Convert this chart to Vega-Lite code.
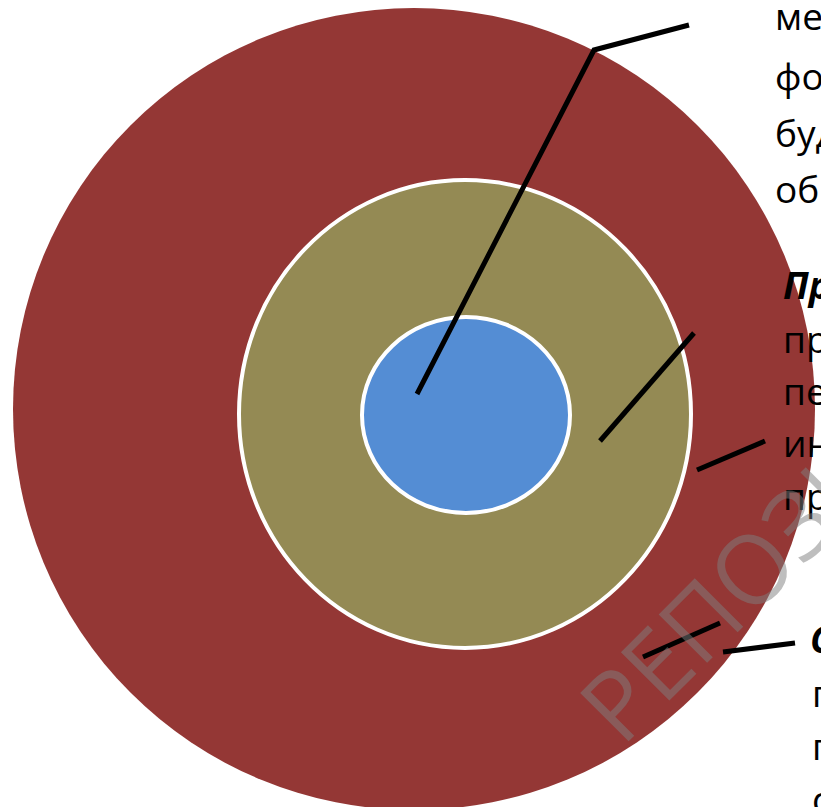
{
  "$schema": "https://vega.github.io/schema/vega-lite/v6.json",
  "width": 821,
  "height": 807,
  "autosize": "none",
  "padding": 0,
  "background": "white",
  "config": {"view": {"stroke": null}},
  "datasets": {
    "rings": [
      {"ring": "outer", "x": 414, "y": 409},
      {"ring": "middle", "x": 465, "y": 414},
      {"ring": "inner", "x": 466, "y": 415}
    ],
    "leaders": [
      {"id": 1, "seq": 1, "x": 417, "y": 394},
      {"id": 1, "seq": 2, "x": 594, "y": 50},
      {"id": 1, "seq": 3, "x": 689, "y": 25},
      {"id": 2, "seq": 1, "x": 600, "y": 441},
      {"id": 2, "seq": 2, "x": 694, "y": 333},
      {"id": 3, "seq": 1, "x": 697, "y": 470},
      {"id": 3, "seq": 2, "x": 765, "y": 441},
      {"id": 4, "seq": 1, "x": 643, "y": 657},
      {"id": 4, "seq": 2, "x": 720, "y": 623},
      {"id": 5, "seq": 1, "x": 723, "y": 652},
      {"id": 5, "seq": 2, "x": 795, "y": 643}
    ],
    "labels": [
      {"role": "body", "label": "методы", "x": 775, "y": 30},
      {"role": "body", "label": "формирования", "x": 775, "y": 90},
      {"role": "body", "label": "будущего", "x": 775, "y": 147},
      {"role": "body", "label": "общества", "x": 775, "y": 203},
      {"role": "head", "label": "Процессы", "x": 783, "y": 299},
      {"role": "body", "label": "процесс", "x": 783, "y": 353},
      {"role": "body", "label": "передачи", "x": 783, "y": 405},
      {"role": "body", "label": "информации", "x": 783, "y": 457},
      {"role": "body", "label": "практики", "x": 783, "y": 510},
      {"role": "head", "label": "Слой", "x": 810, "y": 653},
      {"role": "body", "label": "понятий", "x": 812, "y": 707},
      {"role": "body", "label": "представлений", "x": 812, "y": 760},
      {"role": "body", "label": "смыслов", "x": 812, "y": 813}
    ],
    "mark": [
      {"label": "РЕПОЗИТОРИЙ", "x": 622, "y": 748}
    ]
  },
  "encoding": {
    "x": {"field": "x", "type": "quantitative", "scale": {"domain": [0, 821], "nice": false, "zero": false}, "axis": null},
    "y": {"field": "y", "type": "quantitative", "scale": {"domain": [0, 807], "nice": false, "zero": false, "reverse": true}, "axis": null}
  },
  "layer": [
    {
      "data": {"name": "rings"},
      "transform": [{"filter": "datum.ring === 'outer'"}],
      "mark": {"type": "point", "shape": "circle", "size": 643204, "filled": true, "fill": "#943735", "stroke": null, "opacity": 1}
    },
    {
      "data": {"name": "rings"},
      "transform": [{"filter": "datum.ring === 'middle'"}],
      "mark": {"type": "point", "shape": "M 1 0 C 1 0.5716 0.5523 1.035 0 1.035 C -0.5523 1.035 -1 0.5716 -1 0 C -1 -0.5716 -0.5523 -1.035 0 -1.035 C 0.5523 -1.035 1 -0.5716 1 0 Z", "size": 204304, "filled": true, "fill": "#948a54", "stroke": "white", "strokeWidth": 4, "opacity": 1}
    },
    {
      "data": {"name": "rings"},
      "transform": [{"filter": "datum.ring === 'inner'"}],
      "mark": {"type": "point", "shape": "M 1 0 C 1 0.5203 0.5523 0.942 0 0.942 C -0.5523 0.942 -1 0.5203 -1 0 C -1 -0.5203 -0.5523 -0.942 0 -0.942 C 0.5523 -0.942 1 -0.5203 1 0 Z", "size": 43264, "filled": true, "fill": "#548dd4", "stroke": "white", "strokeWidth": 4, "opacity": 1}
    },
    {
      "data": {"name": "leaders"},
      "mark": {"type": "line", "color": "black", "strokeWidth": 5, "strokeCap": "butt", "strokeJoin": "miter"},
      "encoding": {
        "detail": {"field": "id", "type": "nominal"},
        "order": {"field": "seq", "type": "quantitative"}
      }
    },
    {
      "data": {"name": "labels"},
      "transform": [{"filter": "datum.role === 'body'"}],
      "mark": {"type": "text", "align": "left", "baseline": "alphabetic", "font": "Open Sans", "fontSize": 37, "color": "black"},
      "encoding": {"text": {"field": "label"}}
    },
    {
      "data": {"name": "labels"},
      "transform": [{"filter": "datum.role === 'head'"}],
      "mark": {"type": "text", "align": "left", "baseline": "alphabetic", "font": "Open Sans", "fontSize": 37, "fontWeight": "bold", "fontStyle": "italic", "color": "black"},
      "encoding": {"text": {"field": "label"}}
    },
    {
      "data": {"name": "mark"},
      "mark": {"type": "text", "align": "left", "baseline": "alphabetic", "font": "Open Sans", "fontWeight": "normal", "fontSize": 96, "angle": -45, "color": "#7f7f7f", "opacity": 0.5},
      "encoding": {"text": {"field": "label"}}
    }
  ]
}
